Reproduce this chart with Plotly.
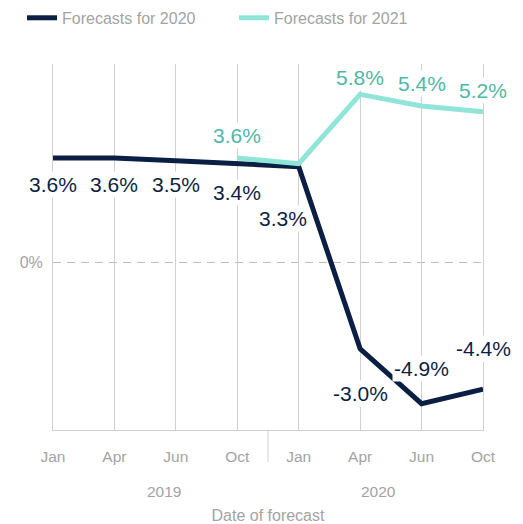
import plotly.graph_objects as go

# Forecast dates
years = ["2019", "2019", "2019", "2019", "2020", "2020", "2020", "2020"]
months = ["Jan", "Apr", "Jun", "Oct", "Jan", "Apr", "Jun", "Oct"]

# Growth forecasts, %
forecast_2020 = [3.6, 3.6, 3.5, 3.4, 3.3, -3.0, -4.9, -4.4]
forecast_2021 = [None, None, None, 3.6, 3.4, 5.8, 5.4, 5.2]
# which points get a value label
show_label_2021 = [False, False, False, True, False, True, True, True]

NAVY = "#0b1f44"
TEAL_LINE = "#8fe5d7"
TEAL_TEXT = "#4fb8a5"
GREY = "#a3a3a3"
GRID = "#d0d0d0"
FONT = "Liberation Sans, Arial, sans-serif"

# label offsets in px (x, y), purely cosmetic
shift_2020 = [(0, -27), (0, -27), (0, -24), (0, -29), (-16, -52), (0, -45), (0, 35), (0, 41)]
shift_2021 = [None, None, None, (0, 22), None, (0, 17), (0, 22), (0, 21)]
year_xshift = {"2019": 19, "2020": -12}

# unique category keys, shown as month names only
dates = [f"{m} {y}" for m, y in zip(months, years)]

fig = go.Figure()

fig.add_trace(go.Scatter(
    x=dates, y=forecast_2020, mode="lines",
    name="Forecasts for 2020",
    line=dict(color=NAVY, width=5),
))
fig.add_trace(go.Scatter(
    x=dates, y=forecast_2021, mode="lines",
    name="Forecasts for 2021",
    line=dict(color=TEAL_LINE, width=5),
))

annotations = []
for i, v in enumerate(forecast_2020):
    dx, dy = shift_2020[i]
    annotations.append(dict(
        x=dates[i], y=v, xref="x", yref="y", text=f"{v:.1f}%", showarrow=False,
        xshift=dx, yshift=dy, bgcolor="white", borderpad=1,
        font=dict(size=21, color=NAVY, family=FONT),
    ))
for i, v in enumerate(forecast_2021):
    if v is None or not show_label_2021[i]:
        continue
    dx, dy = shift_2021[i]
    annotations.append(dict(
        x=dates[i], y=v, xref="x", yref="y", text=f"{v:.1f}%", showarrow=False,
        xshift=dx, yshift=dy, bgcolor="white", borderpad=1,
        font=dict(size=21, color=TEAL_TEXT, family=FONT),
    ))

# year labels under the month labels, centred on each group
for yr in dict.fromkeys(years):
    idx = [i for i, y in enumerate(years) if y == yr]
    annotations.append(dict(
        x=sum(idx) / len(idx), y=-0.167, xref="x", yref="paper", yanchor="middle",
        text=yr, showarrow=False, xshift=year_xshift[yr],
        font=dict(size=15.5, color=GREY, family=FONT),
    ))

# divider between the two years
split = years.index("2020") - 0.5
shapes = [dict(type="line", xref="x", yref="paper", x0=split, x1=split,
               y0=0, y1=-0.087, line=dict(color=GRID, width=1))]

# the page body keeps an 8px margin, so the figure is 8px smaller
fig.update_layout(
    width=515, height=516,
    margin=dict(l=45, r=40, t=56, b=94, autoexpand=False),
    paper_bgcolor="white", plot_bgcolor="white",
    font=dict(family=FONT, color=GREY, size=16),
    annotations=annotations, shapes=shapes,
    showlegend=True,
    legend=dict(
        orientation="h", x=-0.072, xanchor="left", y=1.126, yanchor="middle",
        font=dict(size=16, color=GREY), entrywidth=167, entrywidthmode="pixels",
    ),
    hovermode=False,
)

fig.update_xaxes(
    type="category", range=[0, 7],
    tickvals=dates, ticktext=months,
    showgrid=True, gridcolor=GRID, gridwidth=1,
    showline=True, linecolor=GRID, linewidth=1,
    ticks="", tickfont=dict(size=15.5, color=GREY), ticklabelstandoff=12,
    title=dict(text="Date of forecast", font=dict(size=16, color=GREY), standoff=48),
    zeroline=False,
)
fig.update_yaxes(
    range=[-5.81, 6.85],
    tickvals=[0], ticktext=["0%"],
    showgrid=True, gridcolor="#bdbdbd", gridwidth=1, griddash="8px,6px",
    zeroline=False, showline=True, linecolor=GRID, linewidth=1, mirror=True,
    ticks="", tickfont=dict(size=16, color=GREY), ticklabelstandoff=6,
)

fig.write_html("out.html")
